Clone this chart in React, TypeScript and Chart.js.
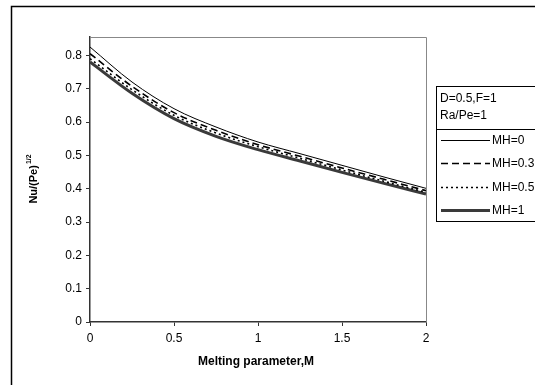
import React, { useEffect, useRef } from "react";
import { Chart, registerables } from "chart.js";
Chart.register(...registerables);

const mValues = [0, 0.25, 0.5, 0.75, 1, 1.25, 1.5, 1.75, 2];
const mh0 = [0.825, 0.72, 0.64, 0.585, 0.54, 0.505, 0.47, 0.435, 0.401];
const mh03 = [0.805, 0.707, 0.628, 0.575, 0.532, 0.497, 0.462, 0.428, 0.394];
const mh05 = [0.79, 0.697, 0.62, 0.567, 0.526, 0.491, 0.456, 0.422, 0.389];
const mh1 = [0.78, 0.686, 0.61, 0.557, 0.517, 0.483, 0.449, 0.416, 0.384];
const seriesLabels = ["MH=0", "MH=0.3", "MH=0.5", "MH=1"];
const yTicks = [0, 0.1, 0.2, 0.3, 0.4, 0.5, 0.6, 0.7, 0.8];
const xTicks = [0, 0.5, 1, 1.5, 2];
const legendHeader = ["D=0.5,F=1", "Ra/Pe=1"];
const xTitle = "Melting parameter,M";

const FONT = "Arial, 'Liberation Sans', sans-serif";

const styles = [
  { color: "#000", width: 1, dash: [] as number[] },
  { color: "#000", width: 1.6, dash: [7, 4] },
  { color: "#000", width: 1.6, dash: [2, 3] },
  { color: "#3a3a3a", width: 3, dash: [] as number[] },
];

export default function App() {
  const ref = useRef<HTMLCanvasElement>(null);
  useEffect(() => {
    document.body.style.margin = "0";
    const series = [mh0, mh03, mh05, mh1];
    const framePlugin = {
      id: "frame",
      beforeDraw(chart: any) {
        const ctx = chart.ctx;
        ctx.save();
        ctx.fillStyle = "#fff";
        ctx.fillRect(0, 0, chart.width, chart.height);
        ctx.strokeStyle = "#000";
        ctx.lineWidth = 1.5;
        ctx.strokeRect(11.5, 6.5, 700, 700);
        ctx.restore();
      },
      afterDraw(chart: any) {
        const ctx = chart.ctx;
        const a = chart.chartArea;
        ctx.save();
        ctx.strokeStyle = "#888";
        ctx.lineWidth = 1;
        ctx.beginPath();
        ctx.moveTo(a.left, a.top + 0.5);
        ctx.lineTo(a.right + 0.5, a.top + 0.5);
        ctx.lineTo(a.right + 0.5, a.bottom);
        ctx.stroke();
        ctx.fillStyle = "#000";
        ctx.translate(34, (a.top + a.bottom) / 2);
        ctx.rotate(-Math.PI / 2);
        const main = "Nu/(Pe)";
        const sup = "1/2";
        ctx.font = `bold 11px ${FONT}`;
        const w1 = ctx.measureText(main).width;
        ctx.font = `bold 7px ${FONT}`;
        const w2 = ctx.measureText(sup).width;
        const start = -(w1 + w2) / 2;
        ctx.textBaseline = "middle";
        ctx.textAlign = "left";
        ctx.font = `bold 11px ${FONT}`;
        ctx.fillText(main, start, 0);
        ctx.font = `bold 7px ${FONT}`;
        ctx.fillText(sup, start + w1 + 1, -5);
        ctx.restore();

        ctx.save();
        ctx.fillStyle = "#000";
        ctx.font = `bold 12px ${FONT}`;
        ctx.textAlign = "center";
        ctx.textBaseline = "middle";
        ctx.fillText(xTitle, (a.left + a.right) / 2 - 2, 362);
        ctx.restore();

        ctx.save();
        const lx = 436.5, ly = 86.5, lw = 120, lh = 135;
        ctx.fillStyle = "#fff";
        ctx.fillRect(lx, ly, lw, lh);
        ctx.strokeStyle = "#000";
        ctx.lineWidth = 1;
        ctx.strokeRect(lx, ly, lw, lh);
        ctx.beginPath();
        ctx.moveTo(lx, 129.5);
        ctx.lineTo(lx + lw, 129.5);
        ctx.stroke();
        ctx.fillStyle = "#000";
        ctx.font = `12px ${FONT}`;
        ctx.textBaseline = "middle";
        ctx.textAlign = "left";
        ctx.fillText(legendHeader[0], 440, 99);
        ctx.fillText(legendHeader[1], 440, 116);
        const rows = [140, 163, 187, 210];
        seriesLabels.forEach((lab, i) => {
          const s = styles[i];
          ctx.strokeStyle = s.color;
          ctx.lineWidth = s.width;
          ctx.setLineDash(s.dash);
          ctx.beginPath();
          ctx.moveTo(441, rows[i] + 0.5);
          ctx.lineTo(490, rows[i] + 0.5);
          ctx.stroke();
          ctx.setLineDash([]);
          ctx.fillStyle = "#000";
          ctx.fillText(lab, 492, rows[i] + 1);
        });
        ctx.restore();
      },
    };

    const chart = new Chart(ref.current!, {
      type: "line",
      data: {
        datasets: series.map((d, i) => ({
          label: seriesLabels[i],
          data: d.map((v, j) => ({ x: mValues[j], y: v })),
          borderColor: styles[i].color,
          borderWidth: styles[i].width,
          borderDash: styles[i].dash,
          pointRadius: 0,
          cubicInterpolationMode: "monotone",
          fill: false,
        })),
      },
      options: {
        animation: false,
        responsive: false,
        layout: { padding: { left: 0, top: 37, right: 109, bottom: 0 } },
        plugins: { legend: { display: false }, tooltip: { enabled: false } },
        scales: {
          x: {
            type: "linear",
            min: 0,
            max: 2,
            afterBuildTicks: (s: any) => {
              s.ticks = xTicks.map((v) => ({ value: v }));
            },
            afterFit: (s: any) => {
              s.height = 63;
            },
            ticks: {
              color: "#000",
              font: { family: FONT, size: 12 },
              padding: 5,
              maxRotation: 0,
              callback: (v: any) => String(Math.round(Number(v) * 10) / 10),
            },
            grid: { drawOnChartArea: false, tickLength: 4, color: "#333" },
            border: { color: "#333", width: 1.5 },
          },
          y: {
            type: "linear",
            min: 0,
            max: 0.855,
            afterBuildTicks: (s: any) => {
              s.ticks = yTicks.map((v) => ({ value: v }));
            },
            afterFit: (s: any) => {
              s.width = 90;
            },
            ticks: {
              color: "#000",
              font: { family: FONT, size: 12 },
              padding: 4,
              callback: (v: any) => String(Math.round(Number(v) * 10) / 10),
            },
            grid: { drawOnChartArea: false, tickLength: 4, color: "#333" },
            border: { color: "#333", width: 1.5 },
          },
        },
      },
      plugins: [framePlugin],
    } as any);
    return () => chart.destroy();
  }, []);
  return <canvas ref={ref} width={535} height={385} style={{ display: "block" }} />;
}
